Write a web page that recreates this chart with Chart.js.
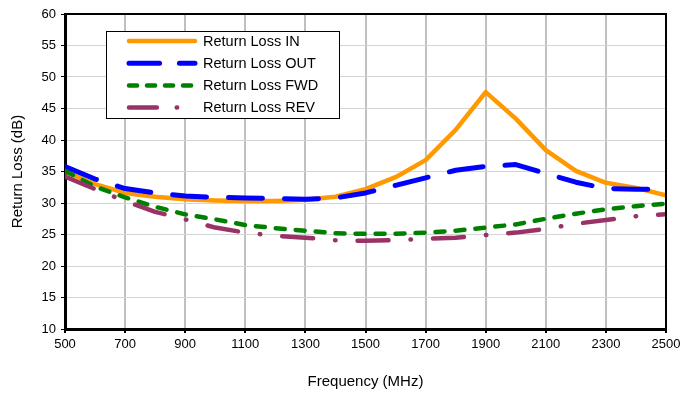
<!DOCTYPE html>
<html>
<head>
<meta charset="utf-8">
<script src="https://cdn.jsdelivr.net/npm/chart.js@4"></script>
<style>
  body { margin: 0; background: #fff; }
  #wrap { width: 697px; height: 394px; }
</style>
</head>
<body>
<div id="wrap"><canvas id="myChart" width="697" height="394"></canvas></div>
<script>
// frequencies in MHz, one point every 100 MHz
const freqs = [500, 600, 700, 800, 900, 1000, 1100, 1200, 1300, 1400, 1500,
               1600, 1700, 1800, 1900, 2000, 2100, 2200, 2300, 2400, 2500];

// return loss values (dB)
const rlIn  = [35.0, 33.0, 31.6, 31.0, 30.6, 30.4, 30.3, 30.3, 30.5, 31.0, 32.2,
               34.1, 36.8, 41.6, 47.6, 43.4, 38.4, 35.1, 33.2, 32.4, 31.2];
const rlOut = [35.8, 33.8, 32.3, 31.6, 31.1, 30.9, 30.8, 30.7, 30.6, 30.8, 31.6,
               32.8, 34.0, 35.2, 35.8, 36.1, 34.7, 33.3, 32.3, 32.2, 32.2];
const rlFwd = [35.1, 32.6, 30.9, 29.4, 28.2, 27.4, 26.5, 26.0, 25.6, 25.2, 25.1,
               25.1, 25.3, 25.6, 26.1, 26.6, 27.5, 28.3, 29.0, 29.5, 29.9];
const rlRev = [34.2, 32.2, 30.3, 28.6, 27.4, 26.1, 25.3, 24.8, 24.5, 24.1, 24.0,
               24.1, 24.3, 24.5, 24.9, 25.3, 25.9, 26.7, 27.3, 27.9, 28.2];

const seriesNames = ['Return Loss IN', 'Return Loss OUT', 'Return Loss FWD', 'Return Loss REV'];
const xTitle = 'Frequency (MHz)';
const yTitle = 'Return Loss (dB)';

const FONT = 'Liberation Sans, Arial, sans-serif';

function toPoints(vals) {
    return vals.map((v, i) => ({ x: freqs[i], y: v }));
}

const styles = [
    { color: '#FF9900', width: 4.5, dash: [] },
    { color: '#0000FF', width: 5, dash: [34, 22] },
    { color: '#008000', width: 4.5, dash: [9, 11] },
    { color: '#993366', width: 4.5, dash: [31, 22, 0.5, 22] }
];
const values = [rlIn, rlOut, rlFwd, rlRev];

// frame on top / right + legend box inside the plot
const framePlugin = {
    id: 'frame',
    afterDraw(chart) {
        const ctx = chart.ctx;
        const a = chart.chartArea;
        ctx.save();
        ctx.strokeStyle = '#000';
        ctx.lineWidth = 2;
        ctx.beginPath();
        ctx.moveTo(a.left, a.top);
        ctx.lineTo(a.right, a.top);
        ctx.lineTo(a.right, a.bottom);
        ctx.stroke();

        // legend
        const bx = 106, by = 31, bw = 233, bh = 87;
        ctx.fillStyle = '#fff';
        ctx.fillRect(bx, by, bw, bh);
        ctx.lineWidth = 1;
        ctx.strokeStyle = '#000';
        ctx.strokeRect(bx + 0.5, by + 0.5, bw, bh);
        ctx.font = '14.5px ' + FONT;
        ctx.textBaseline = 'middle';
        seriesNames.forEach((name, i) => {
            const y = 41 + i * 22.2;
            const s = styles[i];
            ctx.strokeStyle = s.color;
            ctx.lineWidth = s.width;
            ctx.lineCap = 'round';
            ctx.setLineDash(s.dash.length ? s.dash.map(d => d * 0.9) : []);
            ctx.beginPath();
            ctx.moveTo(129, y);
            ctx.lineTo(195, y);
            ctx.stroke();
            ctx.setLineDash([]);
            ctx.fillStyle = '#000';
            ctx.fillText(name, 203, y + 0.5);
        });
        ctx.restore();
    }
};

const ctx = document.getElementById('myChart').getContext('2d');

new Chart(ctx, {
    type: 'line',
    data: {
        datasets: values.map((vals, i) => ({
            label: seriesNames[i],
            data: toPoints(vals),
            borderColor: styles[i].color,
            backgroundColor: styles[i].color,
            borderWidth: styles[i].width,
            borderDash: styles[i].dash,
            borderCapStyle: 'round',
            borderJoinStyle: 'round',
            pointRadius: 0,
            tension: 0,
            fill: false,
            order: 3 - i
        }))
    },
    options: {
        responsive: false,
        animation: false,
        layout: { padding: { left: 0, right: 31, top: 14, bottom: 0 } },
        plugins: {
            legend: { display: false },
            tooltip: { enabled: false }
        },
        scales: {
            x: {
                type: 'linear',
                min: 500,
                max: 2500,
                afterFit: s => { s.height = 65; },
                ticks: {
                    stepSize: 200,
                    autoSkip: false,
                    maxRotation: 0,
                    color: '#000',
                    padding: 4,
                    font: { family: FONT, size: 13 },
                    callback: v => String(v)
                },
                grid: {
                    color: c => (c.tick && (c.tick.value === 500 || c.tick.value === 2500)) ? 'rgba(0,0,0,0)' : '#c0c0c0',
                    lineWidth: 2,
                    tickColor: '#000',
                    tickWidth: 2,
                    tickLength: 4
                },
                border: { color: '#000', width: 3 },
                title: {
                    display: true,
                    text: xTitle,
                    color: '#000',
                    font: { family: FONT, size: 15 },
                    padding: { top: 0, bottom: 3 }
                }
            },
            y: {
                min: 10,
                max: 60,
                afterFit: s => { s.width = 65; },
                ticks: {
                    stepSize: 5,
                    color: '#000',
                    padding: 5,
                    font: { family: FONT, size: 13 },
                    callback: v => String(v)
                },
                grid: {
                    color: c => (c.tick && (c.tick.value === 10 || c.tick.value === 60)) ? 'rgba(0,0,0,0)' : '#d4d4d4',
                    lineWidth: 1,
                    tickColor: '#000',
                    tickWidth: 1,
                    tickLength: 4
                },
                border: { color: '#000', width: 3 },
                title: {
                    display: true,
                    text: yTitle,
                    color: '#000',
                    font: { family: FONT, size: 15 },
                    padding: { top: 9, bottom: 0 }
                }
            }
        }
    },
    plugins: [framePlugin]
});
</script>
</body>
</html>
